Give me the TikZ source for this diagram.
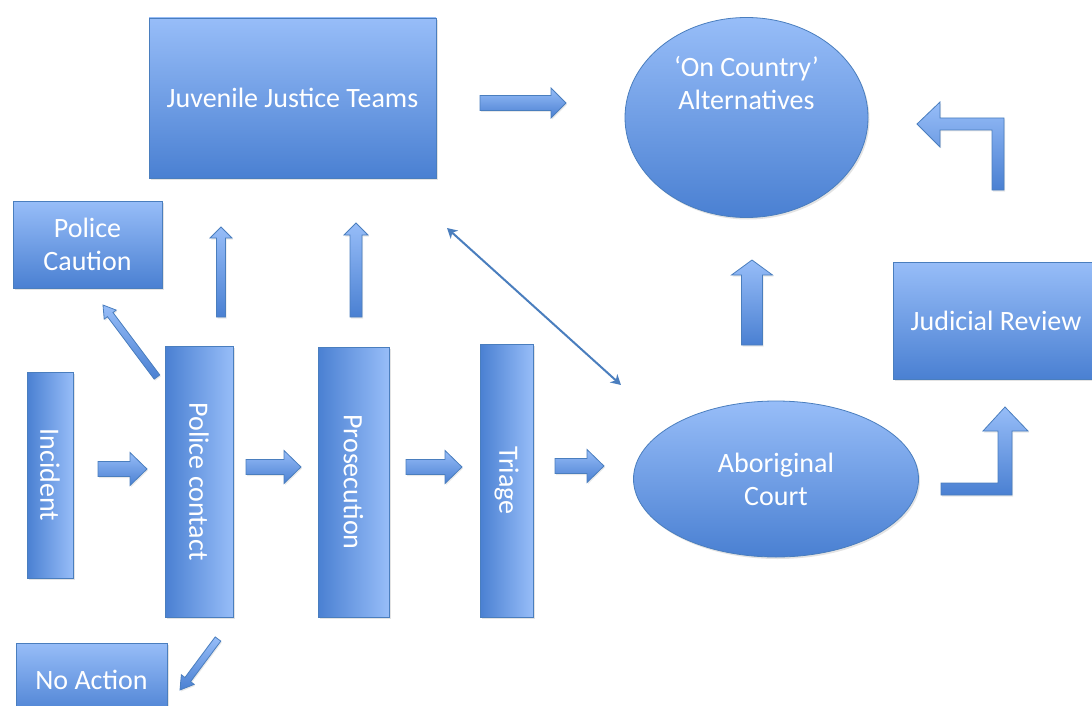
\documentclass[tikz,border=0pt]{standalone}
\usepackage{fontspec}
\setmainfont{Carlito}
\usetikzlibrary{calc,shapes.geometric,shadows,arrows.meta}
\definecolor{lt}{HTML}{97BDF8}
\definecolor{dk}{HTML}{4A80D2}
\definecolor{bd}{HTML}{4A7EBE}
\tikzset{
  base/.style={draw=bd, line width=0.8pt, text=white, font=\fontsize{28}{33}\selectfont,
    align=center, inner sep=0pt,
    drop shadow={opacity=0.22, shadow xshift=1.5pt, shadow yshift=-2pt}},
  hbox/.style={base, rectangle, top color=lt, bottom color=dk},
  vbox/.style={base, rectangle, rotate=-90, left color=dk, right color=lt},
  oval/.style={base, ellipse, top color=lt, bottom color=dk},
  arrowbody/.style={draw=bd, line width=0.8pt, top color=lt, bottom color=dk, line join=miter,
    drop shadow={opacity=0.18, shadow xshift=1pt, shadow yshift=-1.5pt}},
  link/.style={draw=bd, line width=2pt,
    {Stealth[length=10pt,width=11pt,inset=3pt]}-{Stealth[length=10pt,width=11pt,inset=3pt]}}
}
% block arrow: #1 start, #2 end, #3 shaft half width, #4 head half width, #5 head length
\newcommand\blockarrow[5]{%
  \coordinate (bahead) at ($(#2)!#5!(#1)$);
  \path[arrowbody] ($(#1)!#3!90:(#2)$) -- ($(bahead)!#3!90:(#2)$) -- ($(bahead)!#4!90:(#2)$)
    -- (#2) -- ($(bahead)!#4!-90:(#2)$) -- ($(bahead)!#3!-90:(#2)$) -- ($(#1)!#3!-90:(#2)$) -- cycle;
}
\begin{document}
\begin{tikzpicture}[x=1pt, y=-1pt]
\fill[white] (0,0) rectangle (1092,706);
\useasboundingbox (0,0) rectangle (1092,706);

% nodes
\node[hbox, minimum width=287pt, minimum height=160pt] (jjt) at (292.5,98) {Juvenile Justice Teams};
\node[hbox, minimum width=149pt, minimum height=87pt] (caution) at (87.5,244.5) {Police\\Caution};
\node[vbox, minimum width=206pt, minimum height=46pt] (incident) at (50,475) {Incident};
\node[vbox, minimum width=271pt, minimum height=68pt] (police) at (199,481.5) {Police contact};
\node[vbox, minimum width=270pt, minimum height=71pt] (prosecution) at (353.5,482) {Prosecution};
\node[vbox, minimum width=273pt, minimum height=53pt] (triage) at (506.5,480.5) {Triage};
\node[oval, minimum width=285pt, minimum height=156pt] (court) at (776,479) {Aboriginal\\Court};
\node[oval, minimum width=243pt, minimum height=200pt,
  label={[text=white, align=center, font=\fontsize{28}{33}\selectfont, yshift=34pt]center:{‘On Country’\\Alternatives}}] (country) at (746.5,117.5) {};
\node[hbox, minimum width=206pt, minimum height=117pt] (review) at (996,320.5) {Judicial Review};
\node[hbox, minimum width=151pt, minimum height=74pt] (noaction) at (91.5,680) {No Action};

% connector end points
\coordinate (a1s) at (98,469);   \coordinate (a1e) at (147,469);
\coordinate (a2s) at (246,467);  \coordinate (a2e) at (301,467);
\coordinate (a3s) at (406,467);  \coordinate (a3e) at (462,467);
\coordinate (a4s) at (555,466);  \coordinate (a4e) at (604,466);
\coordinate (a5s) at (480,103);  \coordinate (a5e) at (566,103);
\coordinate (a6s) at (221,317);  \coordinate (a6e) at (221,227);
\coordinate (a7s) at (356,317);  \coordinate (a7e) at (356,223);
\coordinate (a8s) at (752,345);  \coordinate (a8e) at (752,260);
\coordinate (a9s) at (157,377);  \coordinate (a9e) at (103,305);
\coordinate (a10s) at (218,639); \coordinate (a10e) at (180,690);
\coordinate (d1) at (447,228);   \coordinate (d2) at (621,385);

% block arrows
\blockarrow{a1s}{a1e}{7.5pt}{16.5pt}{17pt}
\blockarrow{a2s}{a2e}{7.5pt}{16.5pt}{17pt}
\blockarrow{a3s}{a3e}{7.5pt}{16.5pt}{17pt}
\blockarrow{a4s}{a4e}{7.5pt}{16.5pt}{17pt}
\blockarrow{a5s}{a5e}{7.5pt}{15pt}{15pt}
\blockarrow{a6s}{a6e}{4.5pt}{11pt}{11pt}
\blockarrow{a7s}{a7e}{6pt}{12pt}{12pt}
\blockarrow{a8s}{a8e}{10.5pt}{20.5pt}{15pt}
\blockarrow{a9s}{a9e}{3.5pt}{7.5pt}{12pt}
\blockarrow{a10s}{a10e}{3.5pt}{8pt}{13pt}

% bent arrows
\path[arrowbody] (941,483) -- (998,483) -- (998,431) -- (983,431) -- (1005,407)
  -- (1028,431) -- (1012,431) -- (1012,495) -- (941,495) -- cycle;
\path[arrowbody] (992,190) -- (992,130) -- (940,130) -- (940,147) -- (917,124)
  -- (940,102) -- (940,118) -- (1004,118) -- (1004,190) -- cycle;

% double-headed link
\draw[link] (d1) -- (d2);
\end{tikzpicture}
\end{document}
